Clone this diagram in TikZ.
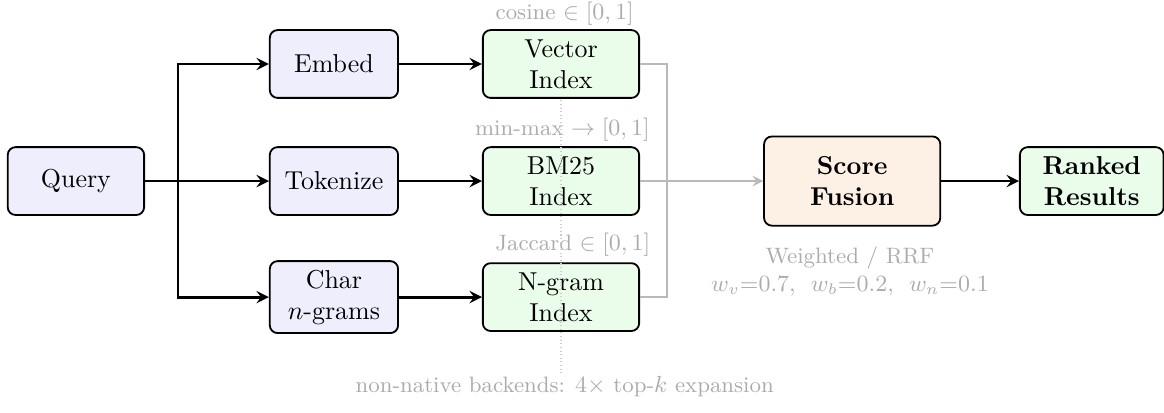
\documentclass[tikz,border=0pt]{standalone}
\usepackage{amsmath}
\usepackage{amssymb}
\usepackage{tikz}

\definecolor{qfill}{RGB}{238,238,252}
\definecolor{ifill}{RGB}{234,252,234}
\definecolor{ffill}{RGB}{253,240,228}

\begin{document}
\begin{tikzpicture}[
        box/.style={draw, rounded corners=3pt, line width=0.7pt, align=center, minimum height=0.92cm},
        inbox/.style={box, fill=qfill, minimum width=1.74cm},
        idxbox/.style={box, fill=ifill, minimum width=2.12cm},
        flow/.style={->, >=stealth, line width=1.1pt},
        gflow/.style={->, >=stealth, thick, gray!55},
        note/.style={text=gray!65, font=\fontsize{8.6}{11}\selectfont}
    ]
        \useasboundingbox (0,0) rectangle (15.79,-5.59);

        \node[box, fill=qfill, minimum width=1.85cm] (query) at (1.03,-2.456) {Query};

        \node[inbox] (embed) at (4.53,-0.868) {Embed};
        \node[inbox] (token) at (4.53,-2.456) {Tokenize};
        \node[inbox] (chars) at (4.53,-4.03) {Char\\$n$-grams};

        \node[idxbox] (vec) at (7.61,-0.868) {Vector\\Index};
        \node[idxbox] (bm25) at (7.61,-2.456) {BM25\\Index};
        \node[idxbox] (ngram) at (7.61,-4.03) {N-gram\\Index};

        \node[box, fill=ffill, minimum width=2.39cm, minimum height=1.21cm, font=\bfseries] (fusion) at (11.56,-2.456) {Score\\Fusion};
        \node[box, fill=ifill, minimum width=1.95cm, font=\bfseries] (ranked) at (14.81,-2.456) {Ranked\\Results};

        \coordinate (split) at (2.415,-2.456);
        \coordinate (join) at (9.05,-2.456);

        \draw[line width=1.1pt] (query) -- (split);
        \draw[flow] (split) |- (embed);
        \draw[flow] (split) -- (token);
        \draw[flow] (split) |- (chars);

        \draw[flow] (embed) -- (vec);
        \draw[flow] (token) -- (bm25);
        \draw[flow] (chars) -- (ngram);

        \draw[thick, gray!55] (vec.east) -| (join);
        \draw[thick, gray!55] (ngram.east) -| (join);
        \draw[gflow] (bm25) -- (fusion);

        \draw[flow] (fusion) -- (ranked);

        \node[note] (cosl) at (7.66,-0.19) {cosine $\in [0, 1]$};
        \node[note] (bml) at (7.63,-1.76) {min-max $\to [0, 1]$};
        \node[note] (jacl) at (7.77,-3.32) {Jaccard $\in [0, 1]$};

        \node[note, align=center] (fusl) at (11.53,-3.68) {Weighted / RRF\\$w_v{=}0.7,\enspace w_b{=}0.2,\enspace w_n{=}0.1$};

        \node[note] (backl) at (7.66,-5.25) {non-native backends: $4\times$\ top-$k$ expansion};
        \coordinate (dtop) at (7.61,-1.36);
        \draw[densely dotted, gray!40] (dtop) -- (7.61,-5.09);
    \end{tikzpicture}
\end{document}
